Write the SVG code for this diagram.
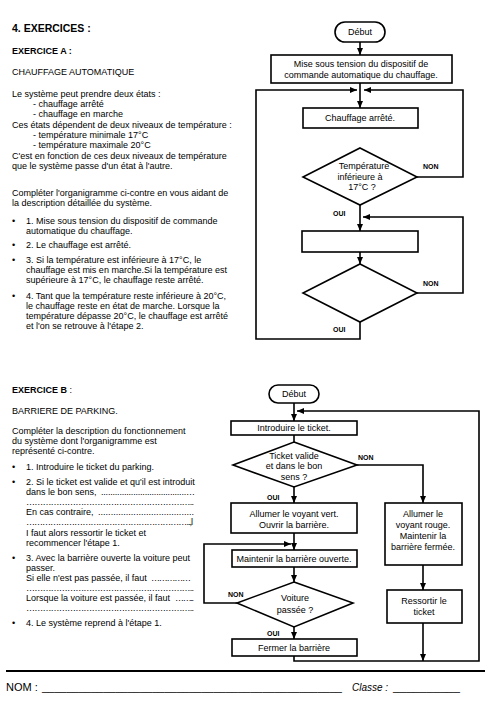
<svg xmlns="http://www.w3.org/2000/svg" width="488" height="705" viewBox="0 0 488 705">
<defs>
<marker id="arr" markerUnits="userSpaceOnUse" markerWidth="7" markerHeight="6" refX="7" refY="3" orient="auto"><path d="M0,0 L7,3 L0,6 z" fill="#000"/></marker>
</defs>
<style>
text{font-family:"Liberation Sans",Arial,sans-serif;fill:#000}
.t{font-size:9px}
.h1{font-size:10.5px;font-weight:bold}
.h2{font-size:9px;font-weight:bold}
.c{text-anchor:middle}
.lbl{font-size:7px;font-weight:bold}
.box{fill:#fff;stroke:#000;stroke-width:1.6}
.ln{fill:none;stroke:#000;stroke-width:1.6;marker-end:url(#arr)}
.ln0{fill:none;stroke:#000;stroke-width:1.6}
.ft{font-size:11px}
</style>
<rect width="488" height="705" fill="#fff"/>

<g id="textA">
<text class="h1" x="12" y="32">4. EXERCICES :</text>
<text class="h2" x="12" y="54">EXERCICE A :</text>
<text class="t" x="12" y="75">CHAUFFAGE  AUTOMATIQUE</text>
<text class="t" x="12" y="97">Le système peut prendre deux états :</text>
<text class="t" x="33" y="107">- chauffage arrêté</text>
<text class="t" x="33" y="117">- chauffage en marche</text>
<text class="t" x="12" y="128">Ces états dépendent de deux niveaux de température :</text>
<text class="t" x="33" y="138">- température minimale 17°C</text>
<text class="t" x="33" y="148">- température maximale 20°C</text>
<text class="t" x="12" y="159">C'est en fonction de ces deux niveaux de température</text>
<text class="t" x="12" y="169">que le système passe d'un état à l'autre.</text>
<text class="t" x="12" y="196">Compléter l'organigramme ci-contre en vous aidant de</text>
<text class="t" x="12" y="206">la description détaillée du système.</text>
<text class="t" x="12" y="224">•</text>
<text class="t" x="26" y="224">1. Mise sous tension du dispositif de commande</text>
<text class="t" x="26" y="234">automatique du chauffage.</text>
<text class="t" x="12" y="248">•</text>
<text class="t" x="26" y="248">2. Le chauffage est arrêté.</text>
<text class="t" x="12" y="263">•</text>
<text class="t" x="26" y="263">3. Si la température est inférieure à 17°C, le</text>
<text class="t" x="26" y="273">chauffage est mis en marche.Si la température est</text>
<text class="t" x="26" y="283">supérieure à 17°C, le chauffage reste arrêté.</text>
<text class="t" x="12" y="299">•</text>
<text class="t" x="26" y="299">4. Tant que la température reste inférieure à 20°C,</text>
<text class="t" x="26" y="309">le chauffage reste en état de marche. Lorsque la</text>
<text class="t" x="26" y="319">température dépasse 20°C, le chauffage est arrêté</text>
<text class="t" x="26" y="329">et  l'on se retrouve à l'étape 2.</text>
</g>

<g id="connectorsA">
<path class="ln" d="M360,42 V55"/>
<path class="ln" d="M360,83 V108"/>
<path class="ln" d="M360,322 V339 H256 V90 H357"/>
<path class="ln" d="M417,177 H463 V90 H364"/>
<path class="ln" d="M360,205 V231"/>
<path class="ln" d="M360,252 V264"/>
<path class="ln" d="M417,293 H463 V217 H363"/>
</g>

<g id="A_debut">
<rect class="box" x="335" y="22" width="50" height="20" rx="10"/>
<text class="t c" x="360" y="35">Début</text>
</g>
<g id="A_mise">
<rect class="box" x="271" y="55" width="181" height="28"/>
<text class="t c" x="361" y="67">Mise sous tension du dispositif de</text>
<text class="t c" x="361" y="78">commande automatique du chauffage.</text>
</g>
<g id="A_arret">
<rect class="box" x="303" y="108" width="115" height="20"/>
<text class="t c" x="360" y="121">Chauffage arrêté.</text>
</g>
<g id="A_test17">
<polygon class="box" points="360,148 417,177 360,205 303,177"/>
<text class="t c" x="364" y="169">Température</text>
<text class="t c" x="360" y="180">inférieure à</text>
<text class="t c" x="362" y="190">17°C ?</text>
<text class="lbl" x="423" y="169">NON</text>
<text class="lbl" x="333" y="216">OUI</text>
</g>
<g id="A_vide">
<rect class="box" x="302" y="231" width="116" height="21"/>
</g>
<g id="A_test20">
<polygon class="box" points="360,264 417,293 360,322 303,293"/>
<text class="lbl" x="423" y="286">NON</text>
<text class="lbl" x="333" y="332">OUI</text>
</g>

<g id="textB">
<text class="h2" x="12" y="393">EXERCICE B<tspan font-weight="normal"> :</tspan></text>
<text class="t" x="12" y="414">BARRIERE DE PARKING.</text>
<text class="t" x="12" y="434">Compléter la description du fonctionnement</text>
<text class="t" x="12" y="444">du système dont l'organigramme est</text>
<text class="t" x="12" y="454">représenté ci-contre.</text>
<text class="t" x="12" y="470">•</text>
<text class="t" x="26" y="470">1. Introduire le ticket du parking.</text>
<text class="t" x="12" y="485">•</text>
<text class="t" x="26" y="485">2. Si le ticket est valide et qu'il est introduit</text>
<text class="t" x="26" y="495">dans le bon sens,</text>
<text class="t" x="101" y="495" textLength="94" lengthAdjust="spacing">.....................................…</text>
<text class="t" x="26" y="505" textLength="168" lengthAdjust="spacing">……………………………………………………..</text>
<text class="t" x="26" y="515">En cas contraire,</text>
<text class="t" x="98" y="515" textLength="96" lengthAdjust="spacing">......................................</text>
<text class="t" x="26" y="525" textLength="167" lengthAdjust="spacing">……………………………………………………..,l</text>
<text class="t" x="26" y="536">I faut alors ressortir le ticket et</text>
<text class="t" x="26" y="546">recommencer l'étape 1.</text>
<text class="t" x="12" y="561">•</text>
<text class="t" x="26" y="561">3. Avec la barrière ouverte la voiture peut</text>
<text class="t" x="26" y="571">passer.</text>
<text class="t" x="26" y="581">Si elle n'est pas passée, il faut</text>
<text class="t" x="151" y="581" textLength="40" lengthAdjust="spacing">……………</text>
<text class="t" x="26" y="591" textLength="168" lengthAdjust="spacing">……………………………………………………..</text>
<text class="t" x="26" y="601">Lorsque la voiture est passée, il faut</text>
<text class="t" x="175" y="601" textLength="19" lengthAdjust="spacing">……..</text>
<text class="t" x="26" y="611" textLength="168" lengthAdjust="spacing">……………………………………………………..</text>
<text class="t" x="12" y="626">•</text>
<text class="t" x="26" y="626">4. Le système reprend à l'étape 1.</text>
</g>

<g id="connectorsB">
<path class="ln" d="M294,403 V421"/>
<path class="ln0" d="M294,435 V442"/>
<path class="ln" d="M294,487 V503"/>
<path class="ln" d="M357,465 H423 V503"/>
<path class="ln" d="M294,533 V550"/>
<path class="ln" d="M237,603 H204 V544 H291"/>
<path class="ln" d="M294,567 V582"/>
<path class="ln" d="M294,627 V639"/>
<path class="ln" d="M294,656 V661 H479 V411 H297"/>
<path class="ln" d="M423,565 V590"/>
<path class="ln" d="M423,623 V661"/>
</g>

<g id="B_debut">
<rect class="box" x="269" y="385" width="50" height="18" rx="9"/>
<text class="t c" x="294" y="397">Début</text>
</g>
<g id="B_intro">
<rect class="box" x="231" y="421" width="126" height="14"/>
<text class="t c" x="294" y="431">Introduire le ticket.</text>
</g>
<g id="B_valide">
<polygon class="box" points="294,442 357,465 294,487 233,465"/>
<text class="t c" x="294" y="459">Ticket valide</text>
<text class="t c" x="294" y="469">et dans le bon</text>
<text class="t c" x="294" y="480">sens ?</text>
<text class="lbl" x="358" y="460">NON</text>
<text class="lbl" x="267" y="500">OUI</text>
</g>
<g id="B_vert">
<rect class="box" x="231" y="503" width="126" height="30"/>
<text class="t c" x="294" y="517">Allumer le voyant vert.</text>
<text class="t c" x="294" y="528">Ouvrir la barrière.</text>
</g>
<g id="B_rouge">
<rect class="box" x="385" y="503" width="77" height="62"/>
<text class="t c" x="423" y="517">Allumer le</text>
<text class="t c" x="423" y="528">voyant rouge.</text>
<text class="t c" x="423" y="539">Maintenir la</text>
<text class="t c" x="423" y="550">barrière fermée.</text>
</g>
<g id="B_maintenir">
<rect class="box" x="232" y="550" width="125" height="17"/>
<text class="t c" x="294" y="562">Maintenir la barrière ouverte.</text>
</g>
<g id="B_passee">
<polygon class="box" points="294,582 353,603 294,627 237,603"/>
<text class="t c" x="295" y="601">Voiture</text>
<text class="t c" x="295" y="613">passée ?</text>
<text class="lbl" x="228" y="597">NON</text>
<text class="lbl" x="267" y="636">OUI</text>
</g>
<g id="B_fermer">
<rect class="box" x="232" y="639" width="125" height="17"/>
<text class="t c" x="294" y="651">Fermer la barrière</text>
</g>
<g id="B_ressortir">
<rect class="box" x="387" y="590" width="75" height="33"/>
<text class="t c" x="424" y="604">Ressortir le</text>
<text class="t c" x="424" y="615">ticket</text>
</g>

<g id="footer">
<line x1="6" y1="671" x2="485" y2="671" stroke="#000" stroke-width="2.2"/>
<text class="ft" x="6" y="691">NOM :</text>
<text class="ft" x="42" y="691" textLength="300" lengthAdjust="spacingAndGlyphs">_________________________________________________</text>
<text x="352" y="691" font-size="10" font-style="italic">Classe :</text>
<text class="ft" x="393" y="691" textLength="67" lengthAdjust="spacingAndGlyphs">__________</text>
</g>
</svg>
